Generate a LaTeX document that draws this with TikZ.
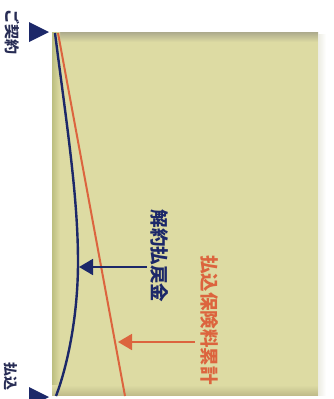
\documentclass[tikz,border=0pt]{standalone}
\usepackage{fontspec}
\newfontfamily\jp{Noto Sans CJK JP}
\usetikzlibrary{arrows.meta}
\definecolor{boxc}{RGB}{221,219,163}
\definecolor{topband}{RGB}{172,170,140}
\definecolor{leftband}{RGB}{188,190,128}
\definecolor{botband}{RGB}{192,188,138}
\definecolor{rightlight}{RGB}{236,236,226}
\definecolor{navy}{RGB}{28,40,105}
\definecolor{labnavy}{RGB}{40,45,85}
\definecolor{orangec}{RGB}{220,100,62}
\tikzset{
  vlabel/.style={rotate=-90, inner sep=0pt, font=\jp\bfseries},
  marker/.style={fill=navy, draw=none},
  curveblue/.style={draw=navy, line width=2.4pt},
  curveorange/.style={draw=orangec, line width=2pt},
  pointer/.style={line width=1.8pt, -{Triangle[length=14pt,width=16pt]}}
}
\begin{document}
\begin{tikzpicture}[x=1pt,y=-1pt]
\useasboundingbox (0,0) rectangle (333,399);
\fill[white] (0,0) rectangle (333,399);
% panel
\fill[boxc] (52,32) rectangle (318,395);
\shade[top color=topband, bottom color=boxc] (52,32) rectangle (318,42);
\shade[left color=leftband, right color=boxc] (52,32) rectangle (60,395);
\shade[top color=boxc, bottom color=botband] (52,385) rectangle (318,395);
\shade[left color=rightlight, right color=white] (318,34) rectangle (326,395);
% axis markers
\fill[marker] (29,22) -- (29,42) -- (49,32) -- cycle;
\fill[marker] (29,387) -- (29,407) -- (49,397) -- cycle;
\node[vlabel, text=labnavy, font=\jp\bfseries\fontsize{15}{15}\selectfont] (start) at (12,32) {ご契約};
\node[vlabel, text=labnavy, font=\jp\bfseries\fontsize{14}{14}\selectfont] (pay) at (11,376) {払込};
% curves
\draw[curveorange] (58,33) -- (125,396);
\draw[curveblue] (55,33) .. controls (66,120) and (78,195) .. (78,262)
  .. controls (78,320) and (66,370) .. (56,396);
% labels
\node[vlabel, text=navy, font=\jp\bfseries\fontsize{18.5}{18.5}\selectfont] (surr) at (160,256) {解約払戻金};
\node[vlabel, text=orangec, font=\jp\bfseries\fontsize{18.5}{18.5}\selectfont] (prem) at (209,320) {払込保険料累計};
\coordinate (bstart) at (147,267);
\coordinate (btip) at (79,267);
\coordinate (ostart) at (195,342);
\coordinate (otip) at (118,342);
\draw[pointer, navy] (bstart) -- (btip);
\draw[pointer, orangec] (ostart) -- (otip);
\end{tikzpicture}
\end{document}
